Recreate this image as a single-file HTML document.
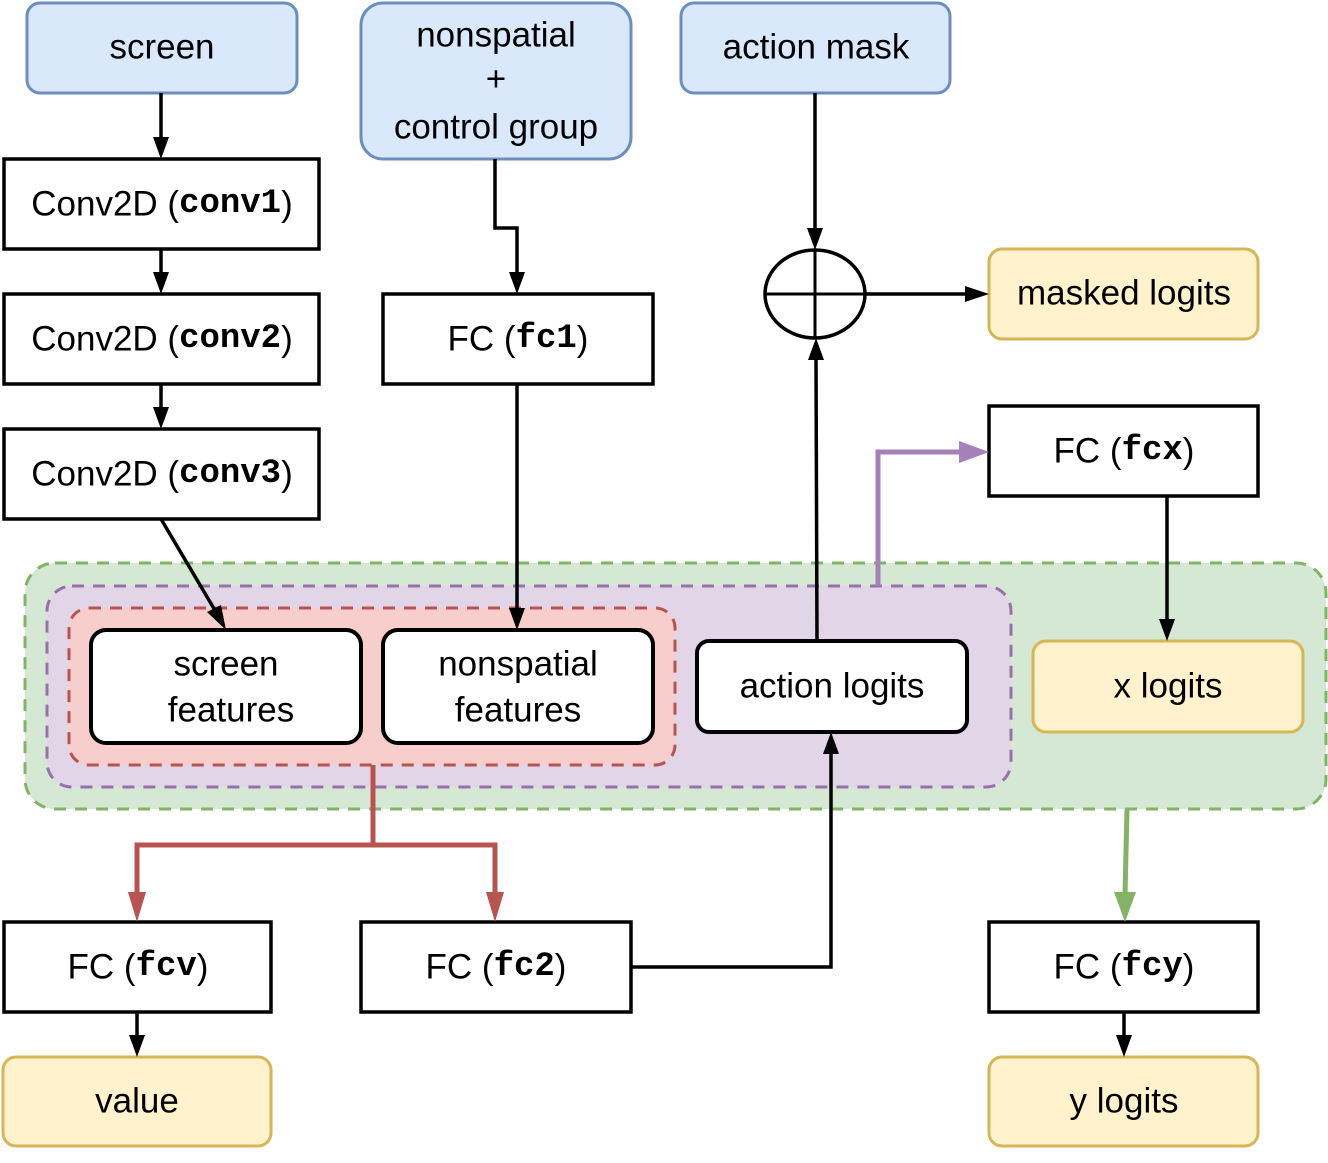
<!DOCTYPE html>
<html><head><meta charset="utf-8"><style>
html,body{margin:0;padding:0;background:#fff;}
svg text{font-family:"Liberation Sans",sans-serif;font-size:35px;text-anchor:middle;dominant-baseline:central;fill:#000;}
.m{font-family:"Liberation Mono",monospace;font-weight:bold;font-size:34px;}
</style></head><body>
<svg width="1328" height="1158" viewBox="0 0 1328 1158" xmlns="http://www.w3.org/2000/svg">
<!-- groups -->
<rect x="25" y="563" width="1301" height="246" rx="30" fill="#d5e8d4" stroke="#82b366" stroke-width="3" stroke-dasharray="12,9"/>
<rect x="47" y="586" width="964" height="201" rx="25" fill="#e1d5e7" stroke="#9673a6" stroke-width="3" stroke-dasharray="12,9"/>
<rect x="69" y="608" width="606" height="157" rx="20" fill="#f8cecc" stroke="#b85450" stroke-width="3" stroke-dasharray="12,9"/>

<!-- inputs -->
<rect x="27" y="3" width="270" height="90" rx="13" fill="#dae8fc" stroke="#6c8ebf" stroke-width="3"/>
<text x="162" y="47">screen</text>
<rect x="361" y="3" width="270" height="156" rx="22" fill="#dae8fc" stroke="#6c8ebf" stroke-width="3"/>
<text x="496" y="35">nonspatial</text><text x="496" y="79">+</text><text x="496" y="127">control group</text>
<rect x="681" y="3" width="269" height="90" rx="13" fill="#dae8fc" stroke="#6c8ebf" stroke-width="3"/>
<text x="816" y="47">action mask</text>

<g fill="#fff" stroke="#000" stroke-width="3.5">
<rect x="4" y="159" width="315" height="90"/>
<rect x="4" y="294" width="315" height="90"/>
<rect x="4" y="429" width="315" height="90"/>
<rect x="383" y="294" width="270" height="90"/>
<rect x="989" y="406" width="269" height="90"/>
<rect x="4" y="922" width="267" height="90"/>
<rect x="361" y="922" width="270" height="90"/>
<rect x="989" y="922" width="269" height="90"/>
</g>
<text x="162" y="204">Conv2D (<tspan class="m">conv1</tspan>)</text>
<text x="162" y="339">Conv2D (<tspan class="m">conv2</tspan>)</text>
<text x="162" y="474">Conv2D (<tspan class="m">conv3</tspan>)</text>
<text x="518" y="339">FC (<tspan class="m">fc1</tspan>)</text>
<text x="1124" y="451">FC (<tspan class="m">fcx</tspan>)</text>
<text x="138" y="967">FC (<tspan class="m">fcv</tspan>)</text>
<text x="496" y="967">FC (<tspan class="m">fc2</tspan>)</text>
<text x="1124" y="967">FC (<tspan class="m">fcy</tspan>)</text>

<g fill="#fff" stroke="#000" stroke-width="4">
<rect x="91" y="630" width="270" height="113" rx="15"/>
<rect x="383" y="630" width="270" height="113" rx="15"/>
<rect x="697" y="641" width="270" height="91" rx="12"/>
</g>
<text x="226" y="664">screen</text><text x="231" y="710">features</text>
<text x="518" y="664">nonspatial</text><text x="518" y="710">features</text>
<text x="832" y="686">action logits</text>

<g fill="#fff2cc" stroke="#d6b656" stroke-width="3">
<rect x="989" y="249" width="269" height="90" rx="13"/>
<rect x="1033" y="641" width="270" height="91" rx="13"/>
<rect x="3" y="1057" width="268" height="89" rx="13"/>
<rect x="989" y="1057" width="269" height="89" rx="13"/>
</g>
<text x="1124" y="293">masked logits</text>
<text x="1168" y="686">x logits</text>
<text x="137" y="1101">value</text>
<text x="1124" y="1101">y logits</text>

<ellipse cx="815" cy="294" rx="50" ry="44" fill="none" stroke="#000" stroke-width="3.5"/>
<line x1="765" y1="294" x2="865" y2="294" stroke="#000" stroke-width="3"/>
<line x1="815" y1="250" x2="815" y2="338" stroke="#000" stroke-width="3"/>

<g stroke="#000" stroke-width="3.5" fill="none">
<line x1="161" y1="93" x2="161" y2="140"/>
<line x1="161" y1="249" x2="161" y2="276"/>
<line x1="161" y1="384" x2="161" y2="411"/>
<line x1="161" y1="519" x2="216" y2="612"/>
<polyline points="495,159 495,228 517,228 517,276"/>
<line x1="517" y1="384" x2="517" y2="612"/>
<line x1="815" y1="93" x2="815" y2="232"/>
<line x1="817" y1="641" x2="816" y2="360"/>
<line x1="865" y1="294" x2="968" y2="294"/>
<line x1="1167" y1="496" x2="1167" y2="622"/>
<polyline points="631,967 831,967 831,752"/>
<line x1="137" y1="1012" x2="137" y2="1038"/>
<line x1="1124" y1="1012" x2="1124" y2="1038"/>
</g>
<g fill="#000">
<polygon points="153,137 169,137 161,159"/>
<polygon points="153,272 169,272 161,294"/>
<polygon points="153,407 169,407 161,429"/>
<polygon points="207,612 221,605 226,630"/>
<polygon points="509,272 525,272 517,294"/>
<polygon points="509,608 525,608 517,630"/>
<polygon points="807,228 823,228 815,250"/>
<polygon points="808,360 824,360 816,338"/>
<polygon points="965,286 965,302 989,294"/>
<polygon points="1159,619 1175,619 1167,641"/>
<polygon points="823,754 839,754 831,732"/>
<polygon points="129,1035 145,1035 137,1057"/>
<polygon points="1116,1035 1132,1035 1124,1057"/>
</g>

<polyline points="373,765 373,845 137,845 137,895" stroke="#b85450" stroke-width="5" fill="none"/>
<polyline points="373,845 495,845 495,895" stroke="#b85450" stroke-width="5" fill="none"/>
<polygon points="128,892 146,892 137,922" fill="#b85450"/>
<polygon points="486,892 504,892 495,922" fill="#b85450"/>
<polyline points="878,586 878,452 962,452" stroke="#a680b8" stroke-width="5" fill="none"/>
<polygon points="959,441 959,463 989,452" fill="#a680b8"/>
<line x1="1127" y1="809" x2="1125" y2="895" stroke="#82b366" stroke-width="5"/>
<polygon points="1114,892 1136,892 1125,922" fill="#82b366"/>
</svg>
</body></html>
